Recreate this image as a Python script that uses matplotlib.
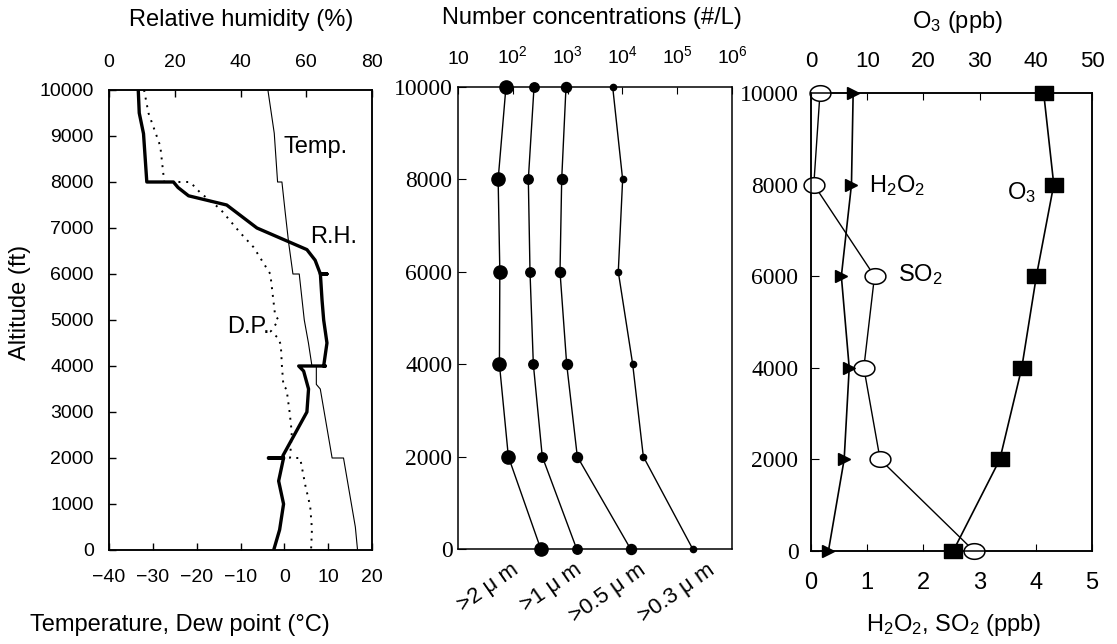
import matplotlib.pyplot as plt
import numpy as np
from matplotlib.path import Path

plt.rcParams['font.family'] = ['Liberation Sans', 'DejaVu Sans']
plt.rcParams['mathtext.fontset'] = 'custom'
plt.rcParams['mathtext.rm'] = 'Liberation Sans'
plt.rcParams['mathtext.it'] = 'Liberation Sans:italic'

# ---- left panel: temperature, dew point, RH ----
rh_alt = [10000, 9500, 9050, 8000, 8000, 7880, 7700, 7500, 7000, 6530, 6300, 6000, 6000, 6000,
          5435, 5000, 4500, 4000, 4000, 4000, 3890, 3500, 3000, 2050, 2000, 2000, 2000,
          1500, 1000, 440, 0]
rh_val = [8.9, 9.2, 10.5, 11.5, 19.6, 21, 24.2, 35.8, 45, 60.2, 62.7, 64.3, 66.3, 64.3,
          64.8, 65.3, 66.3, 65.3, 65.8, 57.7, 59.2, 60.7, 60.2, 52.9, 53.1, 48.5, 53.1,
          51.6, 53.1, 51.9, 50.1]

temp_alt = [10000, 9060, 8000, 8000, 7340, 6690, 6000, 6000, 5000, 4500, 4000, 4000,
            3600, 3500, 2000, 2000, 500, 0]
temp_val = [-3.75, -2.3, -1.54, -0.55, 0.2, 0.97, 1.96, 3.4, 4.55, 5.5, 6.3, 7.3,
            7.3, 8.2, 10.9, 13.5, 16.2, 16.7]

dp_alt = [10000, 9500, 8780, 8000, 8000, 7770, 7410, 6900, 6580, 6000, 5100, 5000, 4750,
          4600, 4450, 4000, 3560, 3500, 3000, 2550, 2000, 2000, 1400, 950, 450, 0]
dp_val = [-32, -31, -28.3, -27.4, -21.5, -19.2, -14.6, -10.1, -7, -3.2, -2.1, -1.3, -3.1,
          -1.3, -0.8, -0.55, -0.2, 0.5, 1.2, 1.7, 1.3, 3.6, 4.8, 5.9, 6.3, 6.1]

# ---- middle panel: particle number concentrations ----
pc_alt = [10000, 8000, 6000, 4000, 2000, 0]
pc_2um = [75, 54, 58, 57, 83, 324]
pc_1um = [244, 192, 206, 237, 345, 1465]
pc_05um = [935, 780, 727, 962, 1504, 14100]
pc_03um = [6650, 10100, 8410, 15400, 24100, 192000]
pc_labels = ['>2 μ m', '>1 μ m', '>0.5 μ m', '>0.3 μ m']
pc_ticks = [10, 1e2, 1e3, 1e4, 1e5, 1e6]
pc_ticklabels = ['10', '10$^{2}$', '10$^{3}$', '10$^{4}$', '10$^{5}$', '10$^{6}$']

# ---- right panel: trace gases ----
gas_alt = [10000, 8000, 6000, 4000, 2000, 0]
so2 = [0.16, 0.05, 1.13, 0.94, 1.23, 2.9]
h2o2 = [0.75, 0.72, 0.54, 0.68, 0.59, 0.31]
o3 = [41.4, 43.2, 40.1, 37.5, 33.6, 25.3]

W, H = 1117, 644
fig = plt.figure(figsize=(W / 100, H / 100), dpi=100)


def box(x0, y0, x1, y1):
    return [x0 / W, 1 - y1 / H, (x1 - x0) / W, (y1 - y0) / H]


def ftext(x, y, s, **kw):
    fig.text(x / W, 1 - y / H, s, ha='center', va='center', **kw)


serif = 'Liberation Serif'
narrow = ['Liberation Sans Narrow', 'Liberation Sans']
TS = 17

# squashed markers, the original figure is stretched horizontally
t = np.linspace(0, 2 * np.pi, 60)
ellipse = Path(np.column_stack([np.cos(t), 0.75 * np.sin(t)]))
rect = Path([(-1, -0.8), (1, -0.8), (1, 0.8), (-1, 0.8), (-1, -0.8)], closed=True)

# left
ax1 = fig.add_axes(box(109, 90, 372, 550))
ax1.plot(temp_val, temp_alt, color='black', lw=0.8)
ax1.plot(dp_val, dp_alt, color='black', lw=1.4, ls=(0, (1, 3)))
ax1.set_xlim(-40, 20)
ax1.set_ylim(0, 10000)
ax1.set_xticks([-40, -30, -20, -10, 0, 10, 20])
ax1.set_xticklabels(['−40', '−30', '−20', '−10', '0', '10', '20'])
ax1.set_yticks(range(0, 10001, 1000))
ax1.tick_params(direction='in', labelsize=14, length=5, width=1)
ax1.tick_params(axis='x', pad=14)
ax1.tick_params(axis='y', pad=11)
ax1t = ax1.twiny()
ax1t.plot(rh_val, rh_alt, color='black', lw=2.4)
ax1t.set_xlim(0, 80)
ax1t.set_xticks([0, 20, 40, 60, 80])
ax1t.tick_params(direction='in', labelsize=14, length=5, width=1, pad=14)
ax1.text(-0.3, 8760, 'Temp.', fontsize=TS, va='center')
ax1.text(5.9, 6800, 'R.H.', fontsize=TS, va='center')
ax1.text(-13.1, 4850, 'D.P.', fontsize=TS, va='center')

ftext(241, 20, 'Relative humidity (%)', fontsize=TS)
ftext(180, 625, 'Temperature, Dew point (°C)', fontsize=TS)
ftext(20, 302, 'Altitude (ft)', fontsize=TS, rotation=90)

# middle
ax2 = fig.add_axes(box(458, 87, 732, 549))
for vals, ms in zip([pc_2um, pc_1um, pc_05um, pc_03um], [9.5, 6.8, 7.2, 4.5]):
    ax2.plot(vals, pc_alt, color='black', lw=1, marker='o', ms=ms, clip_on=False, zorder=3)
ax2.set_xscale('log')
ax2.set_xlim(10, 1e6)
ax2.set_ylim(0, 10000)
ax2.xaxis.tick_top()
ax2.set_xticks(pc_ticks)
ax2.set_xticklabels(pc_ticklabels)
ax2.xaxis.set_minor_locator(plt.NullLocator())
ax2.tick_params(axis='x', direction='in', labelsize=14, length=5, pad=14)
ax2.set_yticks(range(0, 10001, 2000))
ax2.tick_params(axis='y', direction='in', length=6, labelsize=17, pad=4)
for lab in ax2.get_yticklabels():
    lab.set_fontfamily(serif)
for x, lab in zip([89, 1260, 18600, 347000], pc_labels):
    ax2.text(x, -230, lab, rotation=35, fontsize=16, ha='right', va='top',
             rotation_mode='anchor')
ftext(592, 18, 'Number concentrations (#/L)', fontsize=TS)

# right
ax3 = fig.add_axes(box(811, 93, 1092, 551))
ax3.plot(so2, gas_alt, color='black', lw=1, marker=ellipse, ms=15, mfc='white',
         mec='black', mew=1.1, clip_on=False, zorder=4)
ax3.plot(h2o2, gas_alt, color='black', lw=1.2, marker='>', ms=9, clip_on=False, zorder=4)
ax3.set_xlim(0, 5)
ax3.set_ylim(0, 10000)
ax3.set_xticks([0, 1, 2, 3, 4, 5])
ax3.tick_params(axis='x', direction='in', labelsize=17, length=5, pad=15)
for lab in ax3.get_xticklabels():
    lab.set_fontfamily(narrow)
ax3.set_yticks(range(0, 10001, 2000))
ax3.tick_params(axis='y', direction='in', length=6, labelsize=17, pad=9)
for lab in ax3.get_yticklabels():
    lab.set_fontfamily(serif)
ax3t = ax3.twiny()
ax3t.plot(o3, gas_alt, color='black', lw=1.2, marker=rect, ms=13, clip_on=False, zorder=4)
ax3t.set_xlim(0, 50)
ax3t.set_xticks([0, 10, 20, 30, 40, 50])
ax3t.tick_params(direction='in', labelsize=16, length=5, pad=15)
for lab in ax3t.get_xticklabels():
    lab.set_fontfamily(narrow)
ax3.text(1.04, 7990, 'H$_2$O$_2$', fontsize=TS, va='center')
ax3.text(3.49, 7820, 'O$_3$', fontsize=TS, va='center')
ax3.text(1.54, 6030, 'SO$_2$', fontsize=TS, va='center')
ftext(957, 22, 'O$_3$ (ppb)', fontsize=TS)
ftext(954, 625, 'H$_2$O$_2$, SO$_2$ (ppb)', fontsize=TS)

for a in [ax1, ax1t, ax2, ax3, ax3t]:
    for s in a.spines.values():
        s.set_linewidth(1.1)

fig.savefig('out.png', dpi=100)
